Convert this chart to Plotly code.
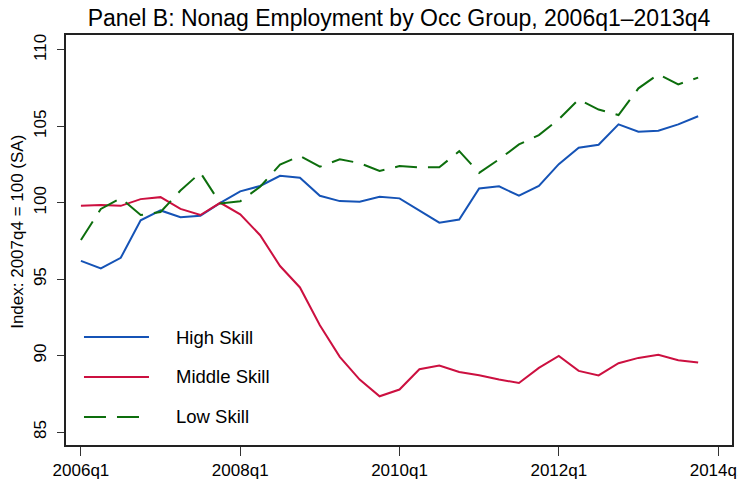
import plotly.graph_objects as go

quarters = [f"{y}q{q}" for y in range(2006, 2014) for q in range(1, 5)]
qidx = list(range(len(quarters)))

high_skill = [96.2, 95.7, 96.4, 98.85, 99.5, 99.06, 99.15, 100.0,
              100.75, 101.1, 101.77, 101.64, 100.46, 100.11, 100.07, 100.4,
              100.29, 99.5, 98.7, 98.9, 100.94, 101.08, 100.46, 101.1,
              102.53, 103.6, 103.8, 105.13, 104.65, 104.72, 105.13, 105.66]
middle_skill = [99.8, 99.85, 99.8, 100.24, 100.37, 99.6, 99.2, 100.0,
                99.24, 97.88, 95.86, 94.46, 91.99, 89.92, 88.43, 87.34,
                87.78, 89.11, 89.35, 88.93, 88.72, 88.43, 88.21, 89.2,
                89.98, 89.0, 88.7, 89.5, 89.85, 90.05, 89.7, 89.55]
low_skill = [97.56, 99.6, 100.3, 99.2, 99.4, 100.8, 101.97, 99.96,
             100.1, 101.05, 102.5, 103.06, 102.36, 102.84, 102.6, 102.08,
             102.4, 102.32, 102.32, 103.38, 101.96, 102.84, 103.82, 104.43,
             105.46, 106.77, 106.1, 105.74, 107.49, 108.41, 107.75, 108.19]

x_tick_vals = [0, 8, 16, 24, 32]
x_tick_text = ["2006q1", "2008q1", "2010q1", "2012q1", "2014q1"]
y_tick_vals = [85, 90, 95, 100, 105, 110]

series_names = ["High Skill", "Middle Skill", "Low Skill"]
colors = ["#1553b6", "#cc1040", "#0d6e0d"]
dashes = ["solid", "solid", "22px,11px"]

FONT = "Liberation Sans, Arial, sans-serif"

fig = go.Figure()
for name, vals, col, dsh in zip(series_names, [high_skill, middle_skill, low_skill], colors, dashes):
    fig.add_trace(go.Scatter(x=qidx, y=vals, mode="lines", name=name,
                             line=dict(color=col, width=2, dash=dsh),
                             showlegend=False))

# manual legend (long line samples like the original)
leg_y = [0.2634, 0.1659, 0.0683]
for name, col, dsh, ly in zip(series_names, colors, dashes, leg_y):
    fig.add_shape(type="line", xref="paper", yref="paper",
                  x0=0.027, x1=0.1246, y0=ly, y1=ly,
                  line=dict(color=col, width=2, dash=dsh))
    fig.add_annotation(xref="paper", yref="paper", x=0.162, y=ly,
                       text=name, showarrow=False, xanchor="left", yanchor="middle",
                       font=dict(family=FONT, size=18.5, color="black"))

# y-axis title
fig.add_annotation(xref="paper", yref="paper", x=-0.072, y=0.52,
                   text="Index: 2007q4 = 100 (SA)", showarrow=False,
                   textangle=-90, xanchor="center", yanchor="middle",
                   font=dict(family=FONT, size=17, color="black"))

# page body has an 8px margin, so the figure is sized/placed to compensate
fig.update_layout(
    width=746, height=475,
    margin=dict(l=58, r=22, t=27, b=38),
    paper_bgcolor="white", plot_bgcolor="white",
    font=dict(family=FONT, color="black"),
    title=dict(text="Panel B: Nonag Employment by Occ Group, 2006q1\u20132013q4",
               x=0.5, xref="paper", xanchor="center",
               y=0.979, yanchor="middle",
               font=dict(family=FONT, size=23, color="black")),
)
fig.update_xaxes(range=[-0.75, 32.7], tickvals=x_tick_vals, ticktext=x_tick_text,
                 showgrid=False, zeroline=False, automargin=False,
                 ticklabeloverflow="allow",
                 showline=True, mirror=True, linecolor="#222", linewidth=1.5,
                 ticks="outside", ticklen=9, tickcolor="#333", tickwidth=1,
                 tickfont=dict(family=FONT, size=17, color="black"))
fig.update_yaxes(range=[84.15, 110.98], tickvals=y_tick_vals,
                 showgrid=False, zeroline=False, automargin=False,
                 ticklabeloverflow="allow", ticklabelstandoff=4,
                 showline=True, mirror=True, linecolor="#222", linewidth=1.5,
                 ticks="outside", ticklen=7, tickcolor="#333", tickwidth=1,
                 tickangle=-90,
                 tickfont=dict(family=FONT, size=17, color="black"))

fig.write_html("out.html")
